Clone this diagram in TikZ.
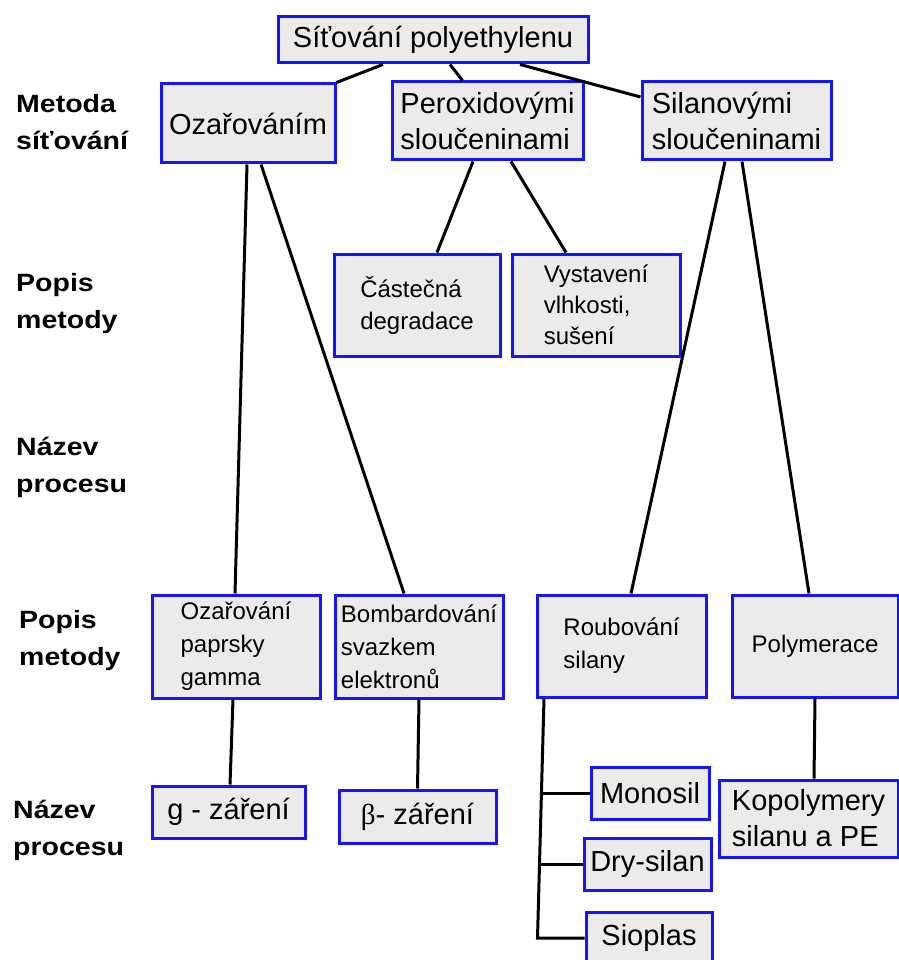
\documentclass[tikz,border=0pt]{standalone}
\usepackage{fontspec}
\setmainfont{Liberation Sans}
\newfontfamily\lblfont{Liberation Sans}[FakeStretch=1.14]
\newfontfamily\greekfont{Liberation Serif}
\usepackage{xcolor}
\usepackage{tikz}
\definecolor{boxblue}{RGB}{20,20,255}
\definecolor{boxgray}{RGB}{235,235,235}
\newcommand{\bigtxt}{\fontsize{29}{36}\selectfont}
\newcommand{\midtxt}{\fontsize{24}{33}\selectfont}
\newcommand{\lbltxt}{\lblfont\fontsize{25}{37}\selectfont\bfseries}

\begin{document}
\begin{tikzpicture}[
    x=1pt, y=-1pt,
    box/.style={draw=boxblue, fill=boxgray, line width=3pt, inner sep=0pt, align=left},
    bigbox/.style={box, font=\bigtxt},
    midbox/.style={box, font=\midtxt},
    lbl/.style={anchor=west, align=left, inner sep=0pt, font=\lbltxt},
    conn/.style={line width=3pt, draw=black}
]
\useasboundingbox (0,0) rectangle (898,960);

% row labels
\node[lbl] (l1) at (16,122) {Metoda\\síťování};
\node[lbl] (l2) at (16,304) {Popis\\metody};
\node[lbl] (l3) at (16,467) {Název\\procesu};
\node[lbl] (l4) at (19,641) {Popis\\metody};
\node[lbl] (l5) at (13,830) {Název\\procesu};

% top
\node[bigbox, minimum width=310, minimum height=46] (top) at (433,40) {Síťování polyethylenu};

% metoda
\node[bigbox, minimum width=174, minimum height=79] (oz) at (248,123.5) {Ozařováním};
\node[bigbox, minimum width=191, minimum height=78] (perox) at (487.5,121) {Peroxidovými\\sloučeninami};
\node[bigbox, minimum width=189, minimum height=78] (silan) at (736.5,121) {Silanovými\\sloučeninami};

% popis (peroxidy)
\node[midbox, minimum width=166, minimum height=102, font=\fontsize{24}{32}\selectfont] (castec) at (417,305) {Částečná\\degradace};
\node[midbox, minimum width=168, minimum height=102, font=\fontsize{24}{31}\selectfont] (vystav) at (596,305) {Vystavení\\vlhkosti,\\sušení};

% popis (dole)
\node[midbox, minimum width=168, minimum height=103] (gamma) at (236,646.5) {Ozařování\\paprsky\\gamma};
\node[midbox, minimum width=168, minimum height=103] (bomb) at (419,646.5) {Bombardování\\svazkem\\elektronů};
\node[midbox, minimum width=169, minimum height=102] (roub) at (621.5,646) {Roubování\\silany};
\node[midbox, minimum width=166, minimum height=102] (polym) at (815,646) {Polymerace};

% nazev procesu
\node[bigbox, minimum width=153, minimum height=52] (gzar) at (228.5,812) {g - záření};
\node[bigbox, minimum width=157, minimum height=53] (bzar) at (417.5,816.5) {{\greekfont β}- záření};
\node[bigbox, minimum width=118, minimum height=52] (monosil) at (650,793) {Monosil};
\node[bigbox, minimum width=127, minimum height=52] (dry) at (647.5,864) {Dry-silan};
\node[bigbox, minimum width=126, minimum height=52] (sioplas) at (649,938) {Sioplas};
\node[bigbox, minimum width=179, minimum height=77] (kopol) at (808.5,818.5) {Kopolymery\\silanu a PE};

% spojnice
\draw[conn] ([xshift=-50pt]top.south) -- (oz.north east);
\draw[conn] ([xshift=17pt]top.south) -- ([xshift=-25pt]perox.north);
\draw[conn] ([xshift=87pt]top.south) -- ([yshift=24pt]silan.west);

\draw[conn] ([xshift=-1pt]oz.south) -- ([xshift=-1pt]gamma.north);
\draw[conn] ([xshift=13pt]oz.south) -- ([xshift=-15pt]bomb.north);
\draw[conn] ([xshift=-14.5pt]perox.south) -- ([xshift=20pt]castec.north);
\draw[conn] ([xshift=23.5pt]perox.south) -- ([xshift=-30pt]vystav.north);
\draw[conn] ([xshift=-11.5pt]silan.south) -- ([xshift=9.5pt]roub.north);
\draw[conn] ([xshift=5.5pt]silan.south) -- ([xshift=-6pt]polym.north);

\draw[conn] ([xshift=-3pt]gamma.south) -- ([xshift=1.5pt]gzar.north);
\draw[conn] (bomb.south) -- (bzar.north);
\draw[conn] ([xshift=8.5pt]roub.south west) -- ([xshift=-47pt]sioplas.west) -- (sioplas.west);
\draw[conn] (monosil.west) -- ++(-49,0);
\draw[conn] (dry.west) -- ++(-44,0);
\draw[conn] (polym.south) -- ([xshift=5.5pt]kopol.north);

\end{tikzpicture}
\end{document}
